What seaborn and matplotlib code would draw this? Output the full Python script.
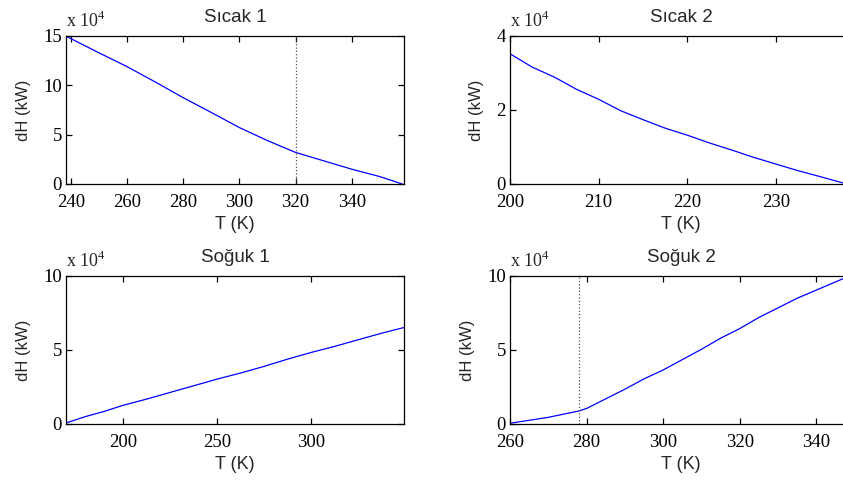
import matplotlib
matplotlib.use("Agg")
import matplotlib.pyplot as plt
import seaborn as sns

# ---------------- data (dH in units of 1e4 kW) ----------------
sicak1_T = [238.3, 240, 250, 260, 270, 280, 290, 300, 310, 320, 330, 340, 350, 358.0]
sicak1_dH = [15.0, 14.74, 13.3, 11.9, 10.35, 8.75, 7.25, 5.72, 4.4, 3.2, 2.35, 1.5, 0.75, 0.0]

sicak2_T = [200, 202.5, 205, 207.5, 210, 212.5, 215, 217.5, 220, 222.5, 225, 227.5, 230, 232.5, 235, 238]
sicak2_dH = [3.52, 3.16, 2.89, 2.56, 2.29, 1.98, 1.74, 1.51, 1.32, 1.11, 0.92, 0.72, 0.54, 0.36, 0.2, 0.0]

soguk1_T = [170, 180, 190, 200, 212.5, 225, 237.5, 250, 262.5, 275, 287.5, 300, 312.5, 325, 337.5, 349.5]
soguk1_dH = [0.08, 0.5, 0.85, 1.26, 1.68, 2.13, 2.58, 3.03, 3.44, 3.89, 4.38, 4.83, 5.24, 5.69, 6.13, 6.52]

soguk2_T = [260, 270, 278, 280, 285, 290, 295, 300, 305, 310, 315, 320, 325, 330, 335, 340, 346.8, 348.5]
soguk2_dH = [0.05, 0.45, 0.88, 1.05, 1.7, 2.35, 3.05, 3.65, 4.35, 5.05, 5.8, 6.45, 7.2, 7.85, 8.5, 9.05, 9.8, 9.97]

titles = ["Sıcak 1", "Sıcak 2", "Soğuk 1", "Soğuk 2"]
pinch_T = [320, None, None, 278]
xlims = [(238.3, 358.6), (200, 238.6), (169.7, 349.5), (260, 349.3)]
ylims = [(0, 15), (0, 4), (0, 10), (0, 10)]
xticks = [[240, 260, 280, 300, 320, 340], [200, 210, 220, 230], [200, 250, 300], [260, 280, 300, 320, 340]]
yticks = [[0, 5, 10, 15], [0, 2, 4], [0, 5, 10], [0, 5, 10]]
xlabel = "T (K)"
ylabel = "dH (kW)"
scale_text = "x 10$^{4}$"

# ---------------- figure ----------------
sns.set_style("ticks")
plt.rcParams["font.family"] = ["Liberation Sans", "DejaVu Sans"]
plt.rcParams["mathtext.fontset"] = "custom"
plt.rcParams["mathtext.rm"] = "Liberation Serif"

W, H = 843, 482
fig = plt.figure(figsize=(W / 100, H / 100), dpi=100)

def rect(l, t, r, b):
    return [l / W, 1 - b / H, (r - l) / W, (b - t) / H]

rects = [rect(66, 36, 404, 184), rect(510, 36, 852, 184),
         rect(66, 276, 404, 424), rect(510, 276, 852, 424)]

series = [(sicak1_T, sicak1_dH), (sicak2_T, sicak2_dH),
          (soguk1_T, soguk1_dH), (soguk2_T, soguk2_dH)]

serif = "Liberation Serif"
for i in range(4):
    ax = fig.add_axes(rects[i])
    T, dH = series[i]
    sns.lineplot(x=T, y=dH, ax=ax, color=(0, 0, 1), linewidth=0.9, sort=False)
    if pinch_T[i] is not None:
        ax.axvline(pinch_T[i], color="#555555", linestyle=":", linewidth=0.9)
    ax.set_xlim(*xlims[i])
    ax.set_ylim(*ylims[i])
    ax.set_xticks(xticks[i])
    ax.set_yticks(yticks[i])
    ax.tick_params(direction="in", top=True, right=True, length=4, width=0.9,
                   labelsize=13.5, colors="black")
    ax.tick_params(axis="x", pad=7)
    ax.tick_params(axis="y", pad=3)
    for lab in ax.get_xticklabels() + ax.get_yticklabels():
        lab.set_fontfamily(serif)
    for sp in ax.spines.values():
        sp.set_visible(True)
        sp.set_linewidth(0.9)
        sp.set_color("black")
    ax.set_xlabel(xlabel, fontsize=13, labelpad=4)
    ax.set_ylabel(ylabel, fontsize=12, labelpad=9)
    ax.set_title(titles[i], fontsize=13.5, pad=10)
    ax.annotate(scale_text, xy=(0, 1), xycoords="axes fraction",
                xytext=(0, 6.5), textcoords="offset points",
                ha="left", va="baseline", fontsize=13, family=serif)

fig.savefig("out.png", dpi=100, facecolor="white")
